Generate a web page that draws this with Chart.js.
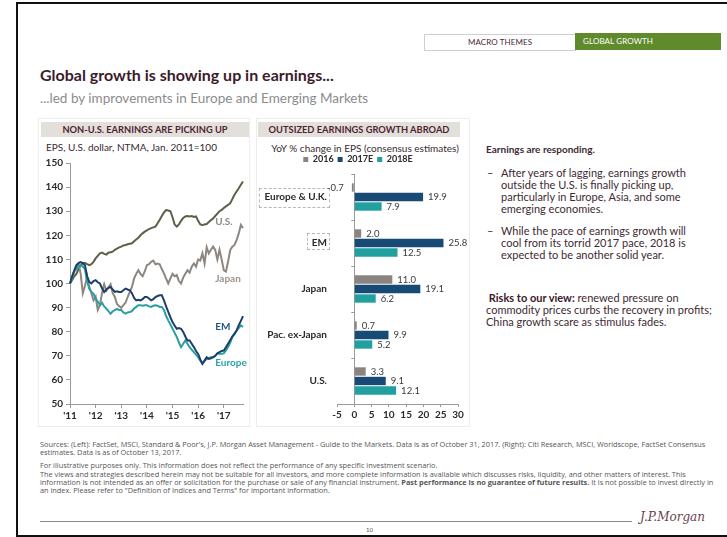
<!DOCTYPE html>
<html>
<head>
<meta charset="utf-8">
<script src="https://cdn.jsdelivr.net/npm/chart.js@4.4.0/dist/chart.umd.min.js"></script>
<style>
  body { margin: 0; width: 727px; height: 537px; background: #fff; position: relative; overflow: hidden;
         font-family: Lato, "Open Sans", sans-serif; color: #3b2230; }
  .abs { position: absolute; }
  #frame { left: 16px; top: 2px; width: 720px; height: 531px; border: 2px solid #111; border-right: none; }
  .tab { top: 34px; height: 16px; line-height: 16px; font-size: 8px; letter-spacing: 0.1px; }
  #tab1 { left: 424px; width: 150px; border: 1px solid #cfcfcf; text-align: center; color: #4a2a35; height: 15px; line-height: 15px; }
  #tab2 { left: 575px; width: 138px; padding-left: 8px; background: #5f8b2c; color: #fff; height: 17px; top: 33px; line-height: 17px; }
  #title { left: 40px; top: 65px; font-size: 16px; font-weight: 700; color: #3c1b2b; }
  #subtitle { left: 40px; top: 90px; font-size: 13.5px; color: #8c8c8c; }
  .panel { top: 118px; height: 307px; border: 1px solid #ededed; }
  .band { top: 122px; height: 15px; line-height: 15px; background: #e3dfdb; text-align: center;
          font-size: 9.3px; font-weight: 700; color: #4f1f33; }
  .sub { font-size: 10px; color: #3a2a30; white-space: nowrap; }
  .dashbox { border: 1px dashed #b8b8b8; }
  #side { left: 486px; top: 143px; width: 238px; font-size: 11px; line-height: 12px; color: #3e2a33; }
  #side b { color: #3b1a2a; }
  #side .head { font-size: 10px; font-weight: 700; }
  .bul { position: relative; padding-left: 15px; padding-right: 22px; }
  .bul span { position: absolute; left: 1px; }
  #foot { left: 40px; top: 440px; width: 682px; font-family: "Open Sans", sans-serif; font-size: 7.35px; line-height: 8.2px; color: #555; }
  #foot p { margin: 0 0 5px 0; }
  #rule { left: 40px; top: 521px; width: 592px; height: 1px; background: #8a8a8a; }
  #page { left: 366px; top: 526px; font-size: 6px; color: #555; }
  #sig { left: 640px; top: 510px; font-family: "DejaVu Serif", serif; font-style: italic; font-size: 12px; color: #6b4450; }
  canvas { position: absolute; }
</style>
</head>
<body>
<div id="frame" class="abs"></div>
<div id="tab1" class="abs tab">MACRO THEMES</div>
<div id="tab2" class="abs tab">GLOBAL GROWTH</div>
<div id="title" class="abs">Global growth is showing up in earnings...</div>
<div id="subtitle" class="abs">...led by improvements in Europe and Emerging Markets</div>

<div class="abs panel" style="left:38px; width:210px;"></div>
<div class="abs panel" style="left:256px; width:212px;"></div>
<div class="abs band" style="left:41px; width:208px;">NON-U.S. EARNINGS ARE PICKING UP</div>
<div class="abs band" style="left:258px; width:202px;">OUTSIZED EARNINGS GROWTH ABROAD</div>
<div class="abs sub" style="left:46px; top:141px;">EPS, U.S. dollar, NTMA, Jan. 2011=100</div>
<div class="abs sub" style="left:262px; top:142px; width:206px; text-align:center;">YoY % change in EPS (consensus estimates)</div>
<div class="abs dashbox" style="left:259px; top:188px; width:69px; height:18px;"></div>
<div class="abs dashbox" style="left:307px; top:233px; width:21px; height:15px;"></div>

<canvas id="lineChart" width="212" height="270" style="left:38px; top:154px;"></canvas>
<canvas id="barChart" width="212" height="274" style="left:258px; top:150px;"></canvas>

<div id="side" class="abs">
  <div class="head">Earnings are responding.</div>
  <div class="bul" style="margin-top:12px;"><span>–</span>After years of lagging, earnings growth outside the U.S. is finally picking up, particularly in Europe, Asia, and some emerging economies.</div>
  <div class="bul" style="margin-top:10px;"><span>–</span>While the pace of earnings growth will cool from its torrid 2017 pace, 2018 is expected to be another solid year.</div>
  <div style="margin-top:31px;">&nbsp;<b>Risks to our view:</b> renewed pressure on commodity prices curbs the recovery in profits; China growth scare as stimulus fades.</div>
</div>

<div id="foot" class="abs">
  <p>Sources: (Left): FactSet, MSCI, Standard &amp; Poor's, J.P. Morgan Asset Management - Guide to the Markets. Data is as of October 31, 2017. (Right): Citi Research, MSCI, Worldscope, FactSet Consensus estimates. Data is as of October 13, 2017.</p>
  <p>For illustrative purposes only. This information does not reflect the performance of any specific investment scenario.<br>
  The views and strategies described herein may not be suitable for all investors, and more complete information is available which discusses risks, liquidity, and other matters of interest. This information is not intended as an offer or solicitation for the purchase or sale of any financial instrument. <b>Past performance is no guarantee of future results.</b> It is not possible to invest directly in an index. Please refer to "Definition of Indices and Terms" for important information.</p>
</div>
<div id="rule" class="abs"></div>
<div id="page" class="abs">10</div>
<div id="sig" class="abs">J.P.Morgan</div>

<script>
// left chart: monthly EPS index, Jan 2011 .. Oct 2017 (Jan 2011 = 100)
const yearTicks = ["'11", "'12", "'13", "'14", "'15", "'16", "'17"];
const monthNames = ["Jan", "Feb", "Mar", "Apr", "May", "Jun", "Jul", "Aug", "Sep", "Oct", "Nov", "Dec"];
const months = [];
for (let y = 2011; y <= 2017; y++) {
  for (let m = 0; m < 12; m++) {
    if (y === 2017 && m > 9) break;
    months.push(monthNames[m] + " " + y);
  }
}

const usEps = [
  100, 101.5, 103, 104, 106, 107.6, 108.5, 108.5, 108, 107.6, 108, 109,
  110.4, 111.5, 112.5, 112.8, 112.3, 112, 112.8, 113, 113.2, 114, 114.5, 115,
  115.3, 115.8, 116, 116.3, 116.5, 116.7, 117.5, 118.3, 119, 120, 120.8, 121.5,
  122, 122.6, 123, 123.3, 123.6, 125, 126.5, 128, 129.5, 130.5, 130.3, 130,
  127.5, 124.5, 123.6, 124.5, 126, 127.2, 127.8, 128, 127.8, 128, 127.6, 127.8,
  126, 124.5, 124.3, 124.5, 124.7, 125.5, 126.3, 127, 128, 129, 130, 130.5,
  131.3, 132, 132.6, 133.3, 135, 136.8, 138.2, 139.5, 141, 142.3
];
const japanEps = [
  100, 102.5, 105, 107, 108.3, 104, 96, 99, 103, 98.6, 96, 93,
  94.5, 89, 91, 96, 99.7, 97, 98.3, 99.7, 96, 94.4, 91.5, 90.6,
  89.9, 91, 92, 94.4, 96.5, 98.6, 102, 104, 105.5, 104, 103, 105,
  107.6, 108, 109, 109.5, 108, 108.3, 108, 106, 104.2, 102, 100, 102,
  104, 103, 103.5, 101, 100, 102.5, 104, 105.5, 104.5, 107, 108.3, 107,
  110, 109.5, 112.5, 108.3, 115, 112.5, 114, 115.3, 113.9, 110, 114, 110,
  105.5, 104.9, 109, 113.9, 115.3, 116, 118, 120.8, 124.3, 123
];
const emEps = [
  100, 103, 105.5, 107.6, 108.5, 108.9, 108.5, 107.6, 103, 100.7, 100, 101,
  101.4, 100.5, 100, 98, 96.5, 97.5, 98.2, 98.6, 97.5, 96.5, 96.8, 96.5,
  96.5, 97.2, 97.9, 97.5, 97.2, 96, 94, 93, 93.2, 93, 93.5, 94.4,
  94.4, 93.8, 93, 93.5, 94.4, 94.8, 95.1, 95.1, 93, 90.5, 88.2, 86,
  84, 82.5, 81.2, 81.5, 81.2, 79.9, 78, 76.4, 76.4, 75, 73.6, 72,
  70.8, 68.5, 66.7, 68, 69.4, 68.7, 69, 69.4, 70, 71, 71.5, 72,
  72.2, 73.5, 75, 76.5, 78, 79.2, 80.5, 82.6, 84.5, 86.5
];
const europeEps = [
  100, 102.5, 105, 106, 107, 107.6, 107, 106, 101, 97.9, 96.5, 95.8,
  93.7, 92.5, 91, 92, 90.5, 89.6, 88.5, 87.5, 88.5, 89, 89.5, 89,
  89, 88, 87.5, 88, 88.2, 88.5, 89.6, 90.3, 91, 91, 90.8, 91,
  91, 90.5, 90.3, 90.8, 91, 90.8, 90.3, 90.3, 89, 86.5, 84.7, 83,
  81.2, 79.5, 77.8, 75.5, 73.6, 75, 76.4, 75, 73.6, 72.5, 71.5, 70.5,
  69.4, 68, 66.7, 68, 68.7, 69, 69.4, 69.4, 70, 70.8, 70.8, 70.8,
  71, 72.2, 73.6, 75.5, 77.8, 79, 80.5, 81.5, 82.6, 82
];

// right chart: YoY % change in EPS
const regions = ["Europe & U.K.", "EM", "Japan", "Pac. ex-Japan", "U.S."];
const eps2016 = [-0.7, 2.0, 11.0, 0.7, 3.3];
const eps2017E = [19.9, 25.8, 19.1, 9.9, 9.1];
const eps2018E = [7.9, 12.5, 6.2, 5.2, 12.1];

const tickFont = { family: "Lato", size: 10, weight: "bold" };

// series name tags drawn next to the line ends
const lineTags = {
  id: "lineTags",
  afterDatasetsDraw(chart) {
    const tags = [
      { text: "U.S.", at: 68, v: 125.5, color: "#8b8b82" },
      { text: "Japan", at: 68, v: 102, color: "#9a928c" },
      { text: "EM", at: 68, v: 82.2, color: "#1f5a8a" },
      { text: "Europe", at: 68, v: 67, color: "#2aa3a6" }
    ];
    const ctx = chart.ctx;
    ctx.save();
    ctx.font = "bold 10px Lato";
    ctx.textBaseline = "middle";
    tags.forEach(t => {
      ctx.fillStyle = t.color;
      ctx.fillText(t.text, chart.scales.x.getPixelForValue(t.at), chart.scales.y.getPixelForValue(t.v));
    });
    ctx.restore();
  }
};

new Chart(document.getElementById("lineChart"), {
  type: "line",
  data: {
    labels: months,
    datasets: [
      { label: "EM", data: emEps, borderColor: "#1d3f6b" },
      { label: "Europe", data: europeEps, borderColor: "#2a9fa2" },
      { label: "Japan", data: japanEps, borderColor: "#8e8680" },
      { label: "U.S.", data: usEps, borderColor: "#5d5f47" }
    ]
  },
  options: {
    responsive: false,
    animation: false,
    elements: { line: { borderWidth: 2, tension: 0 }, point: { radius: 0 } },
    layout: { padding: { top: 4, right: 7 } },
    plugins: { legend: { display: false }, tooltip: { enabled: false } },
    scales: {
      x: {
        grid: { drawOnChartArea: false, tickLength: 4, color: "#9a9a9a" },
        border: { color: "#9a9a9a" },
        ticks: {
          autoSkip: false, maxRotation: 0, padding: 2, font: tickFont, color: "#2a2a2a",
          callback: (v, i) => (i % 12 === 0 ? yearTicks[i / 12] : null)
        },
        afterFit: s => { s.height = 20; }
      },
      y: {
        min: 50, max: 150,
        grid: { drawOnChartArea: false, tickLength: 4, color: "#9a9a9a" },
        border: { color: "#9a9a9a" },
        ticks: { stepSize: 10, padding: 3, font: tickFont, color: "#2a2a2a" },
        afterFit: s => { s.width = 32; }
      }
    }
  },
  plugins: [lineTags]
});

// value labels at the end of each bar
const barValues = {
  id: "barValues",
  afterDatasetsDraw(chart) {
    const ctx = chart.ctx;
    ctx.save();
    ctx.font = "9.5px Lato";
    ctx.fillStyle = "#3a3a3a";
    ctx.textBaseline = "middle";
    chart.data.datasets.forEach((ds, di) => {
      chart.getDatasetMeta(di).data.forEach((bar, i) => {
        const v = ds.data[i];
        ctx.textAlign = v < 0 ? "right" : "left";
        ctx.fillText(v.toFixed(1), v < 0 ? bar.x - 8 : bar.x + 5, bar.y);
      });
    });
    ctx.restore();
  }
};

// short ticks on the zero line between the regions
const zeroTicks = {
  id: "zeroTicks",
  afterDraw(chart) {
    const x0 = chart.scales.x.getPixelForValue(0);
    const ys = chart.scales.y;
    const ctx = chart.ctx;
    ctx.save();
    ctx.strokeStyle = "#9a9a9a";
    ctx.lineWidth = 1;
    for (let i = 0; i < regions.length; i++) {
      const y = Math.round(ys.getPixelForValue(i) - (ys.getPixelForValue(1) - ys.getPixelForValue(0)) / 2) + 0.5;
      ctx.beginPath();
      ctx.moveTo(x0 - 3, y);
      ctx.lineTo(x0, y);
      ctx.stroke();
    }
    ctx.restore();
  }
};

new Chart(document.getElementById("barChart"), {
  type: "bar",
  data: {
    labels: regions,
    datasets: [
      { label: "2016", data: eps2016, backgroundColor: "#8a837f" },
      { label: "2017E", data: eps2017E, backgroundColor: "#174a74" },
      { label: "2018E", data: eps2018E, backgroundColor: "#22a0a0" }
    ]
  },
  options: {
    indexAxis: "y",
    responsive: false,
    animation: false,
    categoryPercentage: 0.62,
    barPercentage: 0.88,
    layout: { padding: { top: 1, right: 12 } },
    plugins: {
      tooltip: { enabled: false },
      legend: {
        position: "top",
        labels: { boxWidth: 5, boxHeight: 5, padding: 4, font: { family: "Lato", size: 9, weight: "bold" }, color: "#2a2a2a" }
      }
    },
    scales: {
      x: {
        min: -5, max: 30,
        grid: {
          drawOnChartArea: true, tickLength: 3, tickColor: "#9a9a9a",
          color: c => (c.tick && c.tick.value === 0 ? "#9a9a9a" : "rgba(0,0,0,0)")
        },
        border: { color: "#9a9a9a" },
        ticks: { stepSize: 5, autoSkip: false, maxRotation: 0, minRotation: 0, padding: 2, font: tickFont, color: "#2a2a2a" },
        afterFit: s => { s.height = 20; }
      },
      y: {
        grid: { display: false, drawTicks: false },
        border: { display: false },
        ticks: { padding: 10, font: tickFont, color: "#2a2a2a" },
        afterFit: s => { s.width = 79; }
      }
    }
  },
  plugins: [barValues, zeroTicks]
});
</script>
</body>
</html>
